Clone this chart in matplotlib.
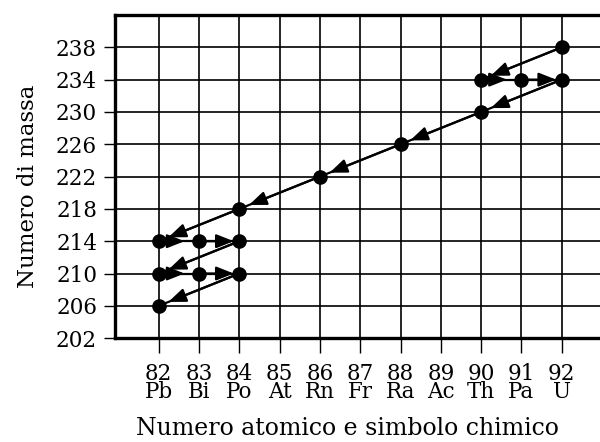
import matplotlib
matplotlib.use("Agg")
import matplotlib.pyplot as plt

plt.rcParams['font.family'] = ['DejaVu Serif', 'Liberation Serif']

# catena di decadimento U-238 (numero atomico, numero di massa), in ordine
chain_z = [92, 90, 91, 92, 90, 88, 86, 84, 82, 83, 84, 82, 83, 84, 82]
chain_a = [238, 234, 234, 234, 230, 226, 222, 218, 214, 214, 214, 210, 210, 210, 206]

z_ticks = [82, 83, 84, 85, 86, 87, 88, 89, 90, 91, 92]
symbols = ['Pb', 'Bi', 'Po', 'At', 'Rn', 'Fr', 'Ra', 'Ac', 'Th', 'Pa', 'U']
a_ticks = [202, 206, 210, 214, 218, 222, 226, 230, 234, 238]

fig = plt.figure(figsize=(6.0, 4.42), dpi=100)
ax = fig.add_axes([0.192, 0.235, 0.808, 0.731])

ax.set_xlim(80.92, 92.95)
ax.set_ylim(202, 242)

ax.set_xticks(z_ticks)
ax.set_xticklabels([f"{z}\n{s}" for z, s in zip(z_ticks, symbols)], fontsize=15.5)
for lab in ax.get_xticklabels():
    lab.set_linespacing(0.74)
ax.set_yticks(a_ticks)
ax.set_yticklabels([str(a) for a in a_ticks], fontsize=15.5)

ax.tick_params(axis='x', direction='out', length=11, width=1, pad=7)
ax.tick_params(axis='y', direction='out', length=8, width=1, pad=5)
ax.grid(True, color='black', linewidth=1.2)
ax.set_axisbelow(True)
for sp in ax.spines.values():
    sp.set_linewidth(2.4)
ax.spines['right'].set_visible(False)

ax.set_xlabel('Numero atomico e simbolo chimico', fontsize=17)
ax.xaxis.set_label_coords(0.48, -0.243)
ax.set_ylabel('Numero di massa', fontsize=16.5)
ax.yaxis.set_label_coords(-0.158, 0.47)

# segmenti e frecce
head = '-|>,head_length=0.48,head_width=0.19'
n = len(chain_z)
for i in range(n - 1):
    z0, a0 = chain_z[i], chain_a[i]
    z1, a1 = chain_z[i + 1], chain_a[i + 1]
    ax.plot([z0, z1], [a0, a1], color='black', linewidth=1.6, zorder=3)
    beta = a0 == a1
    first_beta = beta and i + 2 < n and chain_a[i + 2] == a1
    if first_beta:
        f = 0.64
        tip = (z0 + f * (z1 - z0), a0 + f * (a1 - a0))
        ax.annotate('', xy=tip, xytext=(z0, a0),
                    arrowprops=dict(arrowstyle=head, mutation_scale=22,
                                    color='black', lw=1.6, shrinkA=0, shrinkB=0),
                    zorder=4)
    else:
        ax.annotate('', xy=(z1, a1), xytext=(z0, a0),
                    arrowprops=dict(arrowstyle=head, mutation_scale=22,
                                    color='black', lw=1.6, shrinkA=0,
                                    shrinkB=4 if beta else 7.5),
                    zorder=4)

ax.plot(chain_z, chain_a, linestyle='none', marker='o', markersize=9.5,
        color='black', zorder=5, clip_on=False)

plt.savefig("out.png", dpi=100)
